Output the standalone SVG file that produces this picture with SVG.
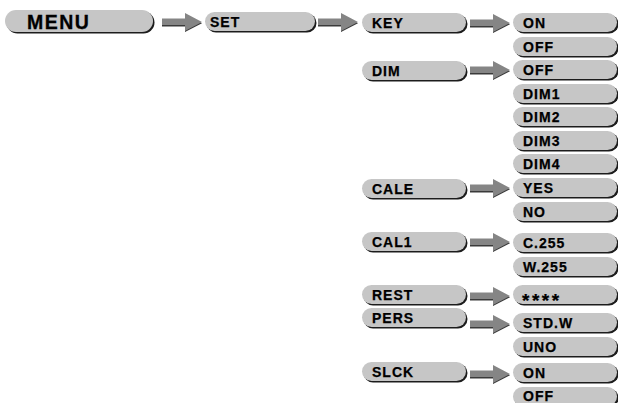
<svg xmlns="http://www.w3.org/2000/svg" width="618" height="403" viewBox="0 0 618 403">
<style>
.t{font-family:"Liberation Sans",Arial,sans-serif;font-weight:bold;font-size:14px;fill:#000;stroke:#000;stroke-width:0.25;letter-spacing:1px}
.st{font-size:19px;letter-spacing:2.5px}
.tm{font-family:"Liberation Sans",Arial,sans-serif;font-weight:bold;font-size:19.5px;fill:#000;stroke:#000;stroke-width:0.3;letter-spacing:1.5px}
.sh{fill:#1c1c1c}
.fc{fill:#c6c6c6}
.ar{fill:#858585}
.as{fill:#3a3a3a}
</style>
<defs>
<g id="pL"><rect class="sh" x="1.5" y="1.5" width="104" height="19" rx="9.5"/><rect class="fc" x="0" y="0" width="104" height="19" rx="9.5"/></g>
<g id="pR"><rect class="sh" x="1.5" y="1.5" width="104" height="19" rx="9.5"/><rect class="fc" x="0" y="0" width="104" height="19" rx="9.5"/></g>
<g id="ar"><path class="as" d="M0,-2.5H23V-8L40,1.2L23,10V4.5H0Z"/><path class="ar" d="M0,-3.5H23V-9L40,0L23,9V3H0Z"/></g>
</defs>
<g id="menu"><rect class="sh" x="6.5" y="11.5" width="148" height="22" rx="11"/><rect class="fc" x="5" y="10" width="148" height="22" rx="11"/><text class="tm" x="27" y="29">MENU</text></g>
<g id="set"><rect class="sh" x="206.5" y="13.5" width="110" height="19" rx="9.5"/><rect class="fc" x="205" y="12" width="110" height="19" rx="9.5"/><text class="t" x="210" y="27">SET</text></g>
<g id="key"><use href="#pL" x="362" y="13"/><text class="t" x="372" y="28">KEY</text></g>
<g id="dim"><use href="#pL" x="362" y="61"/><text class="t" x="372" y="76">DIM</text></g>
<g id="cale"><use href="#pL" x="362" y="179"/><text class="t" x="372" y="194">CALE</text></g>
<g id="cal1"><use href="#pL" x="362" y="232"/><text class="t" x="372" y="247">CAL1</text></g>
<g id="rest"><use href="#pL" x="362" y="285"/><text class="t" x="372" y="300">REST</text></g>
<g id="pers"><use href="#pL" x="362" y="308"/><text class="t" x="372" y="323">PERS</text></g>
<g id="slck"><use href="#pL" x="362" y="362"/><text class="t" x="372" y="377">SLCK</text></g>
<g id="key-on"><use href="#pR" x="513" y="13"/><text class="t" x="523" y="28">ON</text></g>
<g id="key-off"><use href="#pR" x="513" y="37"/><text class="t" x="523" y="52">OFF</text></g>
<g id="dim-off"><use href="#pR" x="513" y="60"/><text class="t" x="523" y="75">OFF</text></g>
<g id="dim1"><use href="#pR" x="513" y="84"/><text class="t" x="523" y="99">DIM1</text></g>
<g id="dim2"><use href="#pR" x="513" y="107"/><text class="t" x="523" y="122">DIM2</text></g>
<g id="dim3"><use href="#pR" x="513" y="131"/><text class="t" x="523" y="146">DIM3</text></g>
<g id="dim4"><use href="#pR" x="513" y="154"/><text class="t" x="523" y="169">DIM4</text></g>
<g id="yes"><use href="#pR" x="513" y="178"/><text class="t" x="523" y="193">YES</text></g>
<g id="no"><use href="#pR" x="513" y="202"/><text class="t" x="523" y="217">NO</text></g>
<g id="c255"><use href="#pR" x="513" y="233"/><text class="t" x="523" y="248">C.255</text></g>
<g id="w255"><use href="#pR" x="513" y="257"/><text class="t" x="523" y="272">W.255</text></g>
<g id="stars"><use href="#pR" x="513" y="285"/><text class="t st" x="522" y="307">****</text></g>
<g id="stdw"><use href="#pR" x="513" y="313"/><text class="t" x="523" y="328">STD.W</text></g>
<g id="uno"><use href="#pR" x="513" y="337"/><text class="t" x="523" y="352">UNO</text></g>
<g id="slck-on"><use href="#pR" x="513" y="363"/><text class="t" x="523" y="378">ON</text></g>
<g id="slck-off"><use href="#pR" x="513" y="387"/><text class="t" x="523" y="401">OFF</text></g>
<g id="connectors">
<use href="#ar" x="162" y="22"/>
<use href="#ar" x="318" y="22"/>
<use href="#ar" x="470" y="23"/>
<use href="#ar" x="470" y="70"/>
<use href="#ar" x="470" y="188"/>
<use href="#ar" x="470" y="242"/>
<use href="#ar" x="470" y="296"/>
<use href="#ar" x="470" y="324"/>
<use href="#ar" x="470" y="374"/>
</g>
</svg>
